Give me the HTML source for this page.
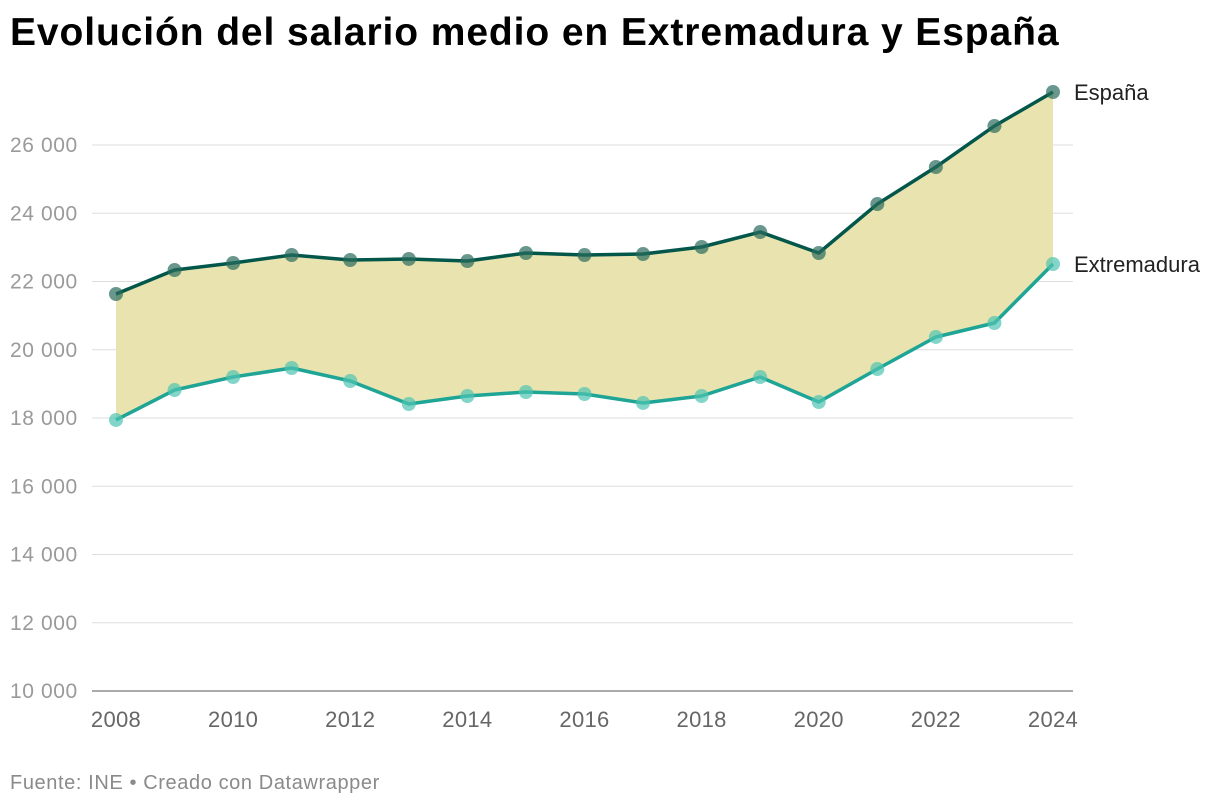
<!DOCTYPE html>
<html><head><meta charset="utf-8">
<style>
body{margin:0;width:1220px;height:808px;background:#fff;font-family:"Liberation Sans",sans-serif;overflow:hidden}
h1{position:absolute;left:10px;top:11px;margin:0;font-size:39px;font-weight:bold;color:#000;letter-spacing:0.9px}
#foot{position:absolute;left:10px;top:772px;font-size:20px;color:#8a8a8a;letter-spacing:0.6px}
svg{position:absolute;left:0;top:0}
</style></head><body>
<h1>Evolución del salario medio en Extremadura y España</h1>
<svg id="chart" width="1220" height="808"></svg>
<div id="foot">Fuente: INE • Creado con Datawrapper</div>
<script>
const years=[2008,2009,2010,2011,2012,2013,2014,2015,2016,2017,2018,2019,2020,2021,2022,2023,2024];
const espana=[21634,22337,22542,22776,22630,22660,22600,22835,22776,22805,23011,23450,22835,24270,25355,26557,27553];
const extremadura=[17942,18820,19201,19465,19084,18410,18645,18762,18703,18440,18645,19201,18469,19436,20374,20784,22513];
const yTicks=[10000,12000,14000,16000,18000,20000,22000,24000,26000];
const xTicks=[2008,2010,2012,2014,2016,2018,2020,2022,2024];
const NS="http://www.w3.org/2000/svg";
const svg=document.getElementById('chart');
const x=v=>116+(v-2008)*(1053-116)/16;
const y=v=>691-(v-10000)*546/16000;
function mk(t,a){const e=document.createElementNS(NS,t);for(const k in a)e.setAttribute(k,a[k]);svg.appendChild(e);return e;}
yTicks.forEach(t=>{
 const l=mk('line',{x1:92,x2:1073,y1:y(t),y2:y(t),stroke:t===10000?'#555':'#ddd','stroke-width':1});
 
 
 const tx=mk('text',{x:10,y:y(t)+7,'font-size':21,fill:'#9a9a9a','letter-spacing':'0.6'});
 tx.textContent=String(t).replace(/(\d+)(\d{3})$/,'$1 $2');
 
 
});
xTicks.forEach(t=>{
 const tx=mk('text',{x:x(t),y:727,'font-size':22,fill:'#666','text-anchor':'middle','letter-spacing':'0.3'});
 tx.textContent=t;
 
 
});
let d='';
years.forEach((yr,i)=>d+=(i?'L':'M')+x(yr)+','+y(espana[i]));
for(let i=years.length-1;i>=0;i--)d+='L'+x(years[i])+','+y(extremadura[i]);
const area=mk('path',{d:d+'Z',fill:'#e9e3b0'});


function series(vals,lc,dc,name,label){
 const p=mk('polyline',{points:years.map((yr,i)=>x(yr)+','+y(vals[i])).join(' '),fill:'none',stroke:lc,'stroke-width':3.5,'stroke-linejoin':'round'});
 
 
 years.forEach((yr,i)=>{
  const c=mk('circle',{cx:x(yr),cy:y(vals[i]),r:7,fill:dc,'fill-opacity':0.7});
  
  
 });
 const t=mk('text',{x:1074,y:y(vals[vals.length-1])+8,'font-size':22,fill:'#222'});
 t.textContent=label;
 
 
}
series(espana,'#02574a','#2a6b5c','espana','España');
series(extremadura,'#1ea595','#4fc3b2','extremadura','Extremadura');
</script>
</body></html>
